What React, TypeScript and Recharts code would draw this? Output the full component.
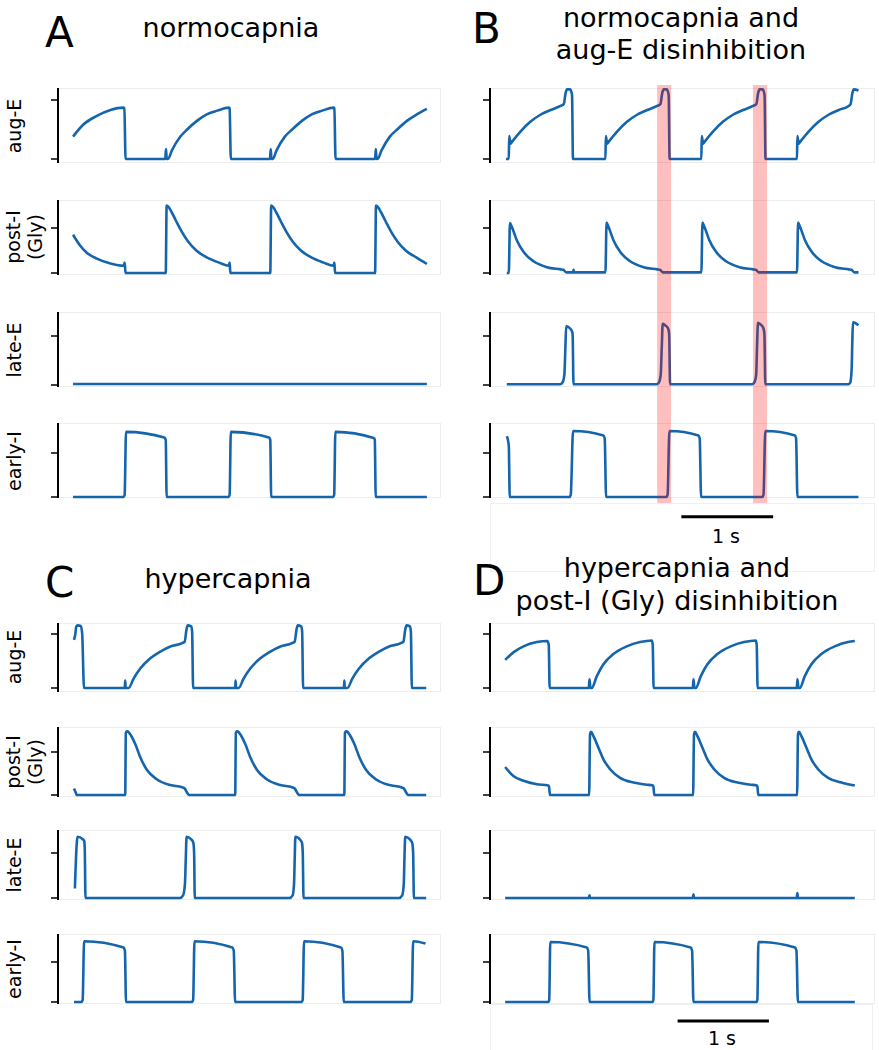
import React from "react";
import { LineChart, Line, XAxis, YAxis, ReferenceArea, ReferenceLine } from "recharts";

const FONT = "'DejaVu Sans', sans-serif";
const BLUE = "#1565ad";
const T_DOMAIN = [-0.165, 4.03]; // seconds

// [t (s), activity]; 0 = lower tick, 1 = upper tick
const A_AUG_E = [
  [0, 0.38], [0.11, 0.58], [0.26, 0.73], [0.41, 0.83], [0.55, 0.87], [0.562, 0.86], [0.575, 0],
  [1.01, 0], [1.018, 0.17], [1.026, 0], [1.04, 0], [1.084, 0.15], [1.176, 0.38], [1.25, 0.5], [1.36, 0.65], [1.47, 0.76], [1.58, 0.82], [1.705, 0.87], [1.715, 0.86], [1.728, 0],
  [2.157, 0], [2.165, 0.17], [2.173, 0], [2.187, 0], [2.23, 0.15], [2.32, 0.38], [2.4, 0.5], [2.51, 0.65], [2.62, 0.76], [2.73, 0.82], [2.852, 0.87], [2.862, 0.86], [2.875, 0],
  [3.308, 0], [3.316, 0.17], [3.324, 0], [3.335, 0], [3.38, 0.15], [3.47, 0.38], [3.55, 0.5], [3.66, 0.65], [3.77, 0.76], [3.875, 0.85],
];
const A_POST_I = [
  [0, 0.85], [0.077, 0.61], [0.15, 0.45], [0.26, 0.32], [0.41, 0.21], [0.555, 0.16], [0.565, 0.23], [0.575, 0],
  [1.015, 0], [1.025, 1.5], [1.045, 1.47], [1.08, 1.35], [1.13, 1.15], [1.19, 0.92], [1.26, 0.7], [1.35, 0.5], [1.47, 0.34], [1.6, 0.23], [1.705, 0.16], [1.715, 0.23], [1.723, 0],
  [2.16, 0], [2.17, 1.5], [2.19, 1.47], [2.225, 1.35], [2.275, 1.15], [2.335, 0.92], [2.405, 0.7], [2.495, 0.5], [2.615, 0.34], [2.745, 0.23], [2.852, 0.16], [2.862, 0.23], [2.87, 0],
  [3.308, 0], [3.318, 1.5], [3.338, 1.47], [3.373, 1.35], [3.423, 1.15], [3.483, 0.92], [3.553, 0.7], [3.643, 0.5], [3.763, 0.34], [3.875, 0.2],
];
const A_LATE_E = [[0, 0.02], [3.875, 0.02]];
const A_EARLY_I = [
  [0, 0], [0.555, 0], [0.565, 0.05], [0.58, 1.48], [1.0, 1.35], [1.015, 1.3], [1.025, 0],
  [1.705, 0], [1.715, 0.05], [1.728, 1.48], [2.147, 1.35], [2.16, 1.3], [2.17, 0],
  [2.85, 0], [2.86, 0.05], [2.873, 1.48], [3.293, 1.34], [3.305, 1.3], [3.315, 0], [3.875, 0],
];

const B_AUG_E = [
  [0.01, 0], [0.04, 0], [0.044, 0.39], [0.059, 0.26], [0.074, 0.29], [0.164, 0.46], [0.274, 0.63], [0.384, 0.75], [0.494, 0.83], [0.604, 0.9], [0.639, 0.93], [0.659, 1.12], [0.674, 1.18], [0.709, 1.18], [0.729, 1.08], [0.739, 0],
  [1.093, 0], [1.097, 0.39], [1.112, 0.26], [1.127, 0.29], [1.217, 0.46], [1.327, 0.63], [1.437, 0.75], [1.547, 0.83], [1.657, 0.9], [1.692, 0.93], [1.712, 1.12], [1.727, 1.18], [1.762, 1.18], [1.782, 1.08], [1.792, 0],
  [2.138, 0], [2.142, 0.39], [2.157, 0.26], [2.172, 0.29], [2.262, 0.46], [2.372, 0.63], [2.482, 0.75], [2.592, 0.83], [2.702, 0.9], [2.737, 0.93], [2.757, 1.12], [2.772, 1.18], [2.807, 1.18], [2.827, 1.08], [2.837, 0],
  [3.18, 0], [3.184, 0.39], [3.199, 0.26], [3.214, 0.29], [3.304, 0.46], [3.414, 0.63], [3.524, 0.75], [3.634, 0.83], [3.744, 0.9], [3.764, 0.93], [3.784, 1.12], [3.799, 1.18], [3.85, 1.16],
];
const B_POST_I = [
  [0.018, 0], [0.04, 0], [0.052, 1.11], [0.074, 1.02], [0.127, 0.73], [0.2, 0.47], [0.309, 0.26], [0.454, 0.13], [0.604, 0.08], [0.634, 0.07], [0.664, 0.015], [0.74, 0.015], [0.745, 0.07], [0.75, 0.015],
  [1.093, 0.015], [1.105, 1.12], [1.127, 1.02], [1.18, 0.73], [1.253, 0.47], [1.362, 0.26], [1.507, 0.13], [1.657, 0.08], [1.687, 0.07], [1.717, 0.015],
  [2.138, 0.015], [2.15, 1.12], [2.172, 1.02], [2.225, 0.73], [2.298, 0.47], [2.407, 0.26], [2.552, 0.13], [2.702, 0.08], [2.732, 0.07], [2.762, 0.015],
  [3.18, 0.015], [3.192, 1.12], [3.214, 1.02], [3.267, 0.73], [3.34, 0.47], [3.449, 0.26], [3.594, 0.13], [3.744, 0.08], [3.774, 0.07], [3.804, 0.015], [3.85, 0.015],
];
const B_LATE_E = [
  [0.018, 0.014], [0.6, 0.014], [0.625, 0.05], [0.645, 0.2], [0.657, 0.8], [0.665, 1.2], [0.69, 1.18], [0.722, 1.12], [0.735, 1.05], [0.745, 0.014],
  [1.65, 0.014], [1.675, 0.05], [1.695, 0.2], [1.707, 0.8], [1.717, 1.25], [1.742, 1.22], [1.774, 1.16], [1.787, 1.05], [1.797, 0.014],
  [2.69, 0.014], [2.715, 0.05], [2.735, 0.2], [2.745, 0.8], [2.755, 1.27], [2.78, 1.24], [2.812, 1.17], [2.825, 1.05], [2.835, 0.014],
  [3.74, 0.014], [3.76, 0.05], [3.775, 0.3], [3.783, 0.9], [3.79, 1.28], [3.85, 1.22],
];
const B_EARLY_I = [
  [0.018, 1.38], [0.03, 1.3], [0.04, 1.15], [0.05, 0],
  [0.7, 0], [0.715, 0.05], [0.74, 1.5], [1.071, 1.4], [1.085, 1.33], [1.1, 0],
  [1.755, 0], [1.77, 0.05], [1.79, 1.5], [2.106, 1.4], [2.12, 1.33], [2.135, 0],
  [2.8, 0], [2.815, 0.05], [2.835, 1.5], [3.159, 1.4], [3.17, 1.33], [3.185, 0], [3.85, 0],
];

const C_AUG_E = [
  [0.01, 0.89], [0.025, 1.0], [0.035, 1.14], [0.05, 1.16], [0.085, 1.15], [0.1, 1.0], [0.12, 0],
  [0.566, 0], [0.571, 0.14], [0.576, 0], [0.608, 0], [0.663, 0.175], [0.736, 0.36], [0.846, 0.55], [0.956, 0.675], [1.066, 0.77], [1.194, 0.83], [1.223, 0.86], [1.242, 1.08], [1.256, 1.16], [1.293, 1.14], [1.304, 1.05], [1.315, 0],
  [1.776, 0], [1.78, 0.14], [1.785, 0], [1.813, 0], [1.868, 0.175], [1.941, 0.36], [2.051, 0.55], [2.161, 0.675], [2.271, 0.77], [2.399, 0.83], [2.428, 0.86], [2.447, 1.08], [2.461, 1.16], [2.498, 1.14], [2.509, 1.05], [2.52, 0],
  [2.967, 0], [2.971, 0.14], [2.976, 0], [3.004, 0], [3.059, 0.175], [3.132, 0.36], [3.242, 0.55], [3.352, 0.675], [3.462, 0.77], [3.59, 0.83], [3.619, 0.86], [3.638, 1.08], [3.652, 1.16], [3.689, 1.14], [3.7, 1.05], [3.711, 0], [3.868, 0],
];
const C_POST_I = [
  [0.01, 0.15], [0.03, 0.05], [0.04, 0],
  [0.571, 0], [0.578, 1.45], [0.59, 1.48], [0.61, 1.46], [0.63, 1.4], [0.68, 1.19], [0.736, 0.88], [0.81, 0.58], [0.92, 0.36], [1.066, 0.23], [1.194, 0.18], [1.223, 0.15], [1.25, 0.05], [1.27, 0],
  [1.776, 0], [1.783, 1.45], [1.795, 1.48], [1.815, 1.46], [1.835, 1.4], [1.885, 1.19], [1.941, 0.88], [2.015, 0.58], [2.125, 0.36], [2.271, 0.23], [2.399, 0.18], [2.428, 0.15], [2.455, 0.05], [2.475, 0],
  [2.971, 0], [2.978, 1.45], [2.99, 1.48], [3.01, 1.46], [3.03, 1.4], [3.08, 1.19], [3.136, 0.88], [3.21, 0.58], [3.32, 0.36], [3.466, 0.23], [3.594, 0.18], [3.623, 0.15], [3.65, 0.05], [3.67, 0], [3.868, 0],
];
const C_LATE_E = [
  [0.02, 0.21], [0.04, 1.2], [0.048, 1.36], [0.11, 1.3], [0.122, 1.27], [0.128, 1.1], [0.136, 0],
  [1.17, 0], [1.205, 0.06], [1.225, 0.3], [1.235, 0.9], [1.243, 1.36], [1.3, 1.29], [1.318, 1.22], [1.326, 1.0], [1.333, 0],
  [2.37, 0], [2.405, 0.06], [2.42, 0.3], [2.428, 0.9], [2.435, 1.36], [2.49, 1.29], [2.508, 1.22], [2.516, 1.0], [2.524, 0],
  [3.57, 0], [3.605, 0.06], [3.622, 0.3], [3.63, 0.9], [3.638, 1.36], [3.695, 1.29], [3.715, 1.22], [3.725, 1.0], [3.733, 0], [3.868, 0],
];
const C_EARLY_I = [
  [0.01, 0], [0.09, 0], [0.105, 0.05], [0.121, 1.52], [0.553, 1.36], [0.568, 1.28], [0.58, 0],
  [1.3, 0], [1.315, 0.05], [1.33, 1.52], [1.744, 1.36], [1.76, 1.28], [1.775, 0],
  [2.5, 0], [2.515, 0.05], [2.53, 1.52], [2.934, 1.36], [2.95, 1.28], [2.965, 0],
  [3.695, 0], [3.71, 0.05], [3.725, 1.52], [3.861, 1.46],
];

const D_AUG_E = [
  [0, 0.52], [0.09, 0.66], [0.2, 0.77], [0.345, 0.85], [0.46, 0.87], [0.475, 0.8], [0.485, 0],
  [0.912, 0], [0.919, 0.16], [0.93, 0], [0.944, 0], [0.999, 0.22], [1.071, 0.44], [1.18, 0.63], [1.325, 0.77], [1.47, 0.85], [1.598, 0.88], [1.608, 0.8], [1.618, 0],
  [2.045, 0], [2.052, 0.16], [2.063, 0], [2.077, 0], [2.132, 0.22], [2.204, 0.44], [2.313, 0.63], [2.458, 0.77], [2.603, 0.85], [2.731, 0.88], [2.741, 0.8], [2.751, 0],
  [3.178, 0], [3.185, 0.16], [3.196, 0], [3.21, 0], [3.265, 0.22], [3.337, 0.44], [3.446, 0.63], [3.591, 0.77], [3.736, 0.85], [3.81, 0.87],
];
const D_POST_I = [
  [0, 0.65], [0.09, 0.44], [0.2, 0.33], [0.345, 0.25], [0.47, 0.22], [0.478, 0.2], [0.488, 0],
  [0.915, 0], [0.925, 1.42], [0.935, 1.47], [0.962, 1.37], [1.017, 1.1], [1.071, 0.83], [1.144, 0.6], [1.253, 0.4], [1.398, 0.29], [1.543, 0.24], [1.609, 0.22], [1.615, 0.2], [1.625, 0],
  [2.048, 0], [2.058, 1.42], [2.068, 1.47], [2.095, 1.37], [2.15, 1.1], [2.204, 0.83], [2.277, 0.6], [2.386, 0.4], [2.531, 0.29], [2.676, 0.24], [2.742, 0.22], [2.748, 0.2], [2.758, 0],
  [3.181, 0], [3.191, 1.42], [3.201, 1.47], [3.228, 1.37], [3.283, 1.1], [3.337, 0.83], [3.41, 0.6], [3.519, 0.4], [3.664, 0.29], [3.81, 0.22],
];
const D_LATE_E = [
  [0, 0], [0.912, 0], [0.919, 0.06], [0.926, 0], [2.045, 0], [2.052, 0.08], [2.059, 0], [3.177, 0], [3.184, 0.11], [3.191, 0], [3.81, 0],
];
const D_EARLY_I = [
  [0, 0], [0.47, 0], [0.48, 0.05], [0.492, 1.5], [0.89, 1.36], [0.905, 1.28], [0.92, 0],
  [1.605, 0], [1.615, 0.05], [1.627, 1.5], [2.022, 1.36], [2.037, 1.28], [2.052, 0],
  [2.738, 0], [2.748, 0.05], [2.76, 1.5], [3.159, 1.36], [3.174, 1.28], [3.19, 0], [3.81, 0],
];

const B_HIGHLIGHTS = [[1.656, 1.808], [2.7, 2.854]];
const SCALE_B = [1.92, 2.92];
const SCALE_D = [1.89, 2.89];

// layout (px)
const YW = 20;
const LEFT_COL = { axis: 58, right: 441 };
const RIGHT_COL = { axis: 490, right: 875 };
const TOP_ROWS = [
  { top: 88, bottom: 163, tick1: 100, tick0: 159 },
  { top: 200, bottom: 275, tick1: 228, tick0: 273 },
  { top: 312, bottom: 387, tick1: 336, tick0: 385 },
  { top: 423, bottom: 498, tick1: 453, tick0: 497 },
];
const BOTTOM_ROWS = [
  { top: 623, bottom: 692, tick1: 634, tick0: 688 },
  { top: 727, bottom: 797, tick1: 752, tick0: 795 },
  { top: 830, bottom: 900, tick1: 853, tick0: 898 },
  { top: 934, bottom: 1004, tick1: 962, tick0: 1002 },
];
const NO_MARGIN = { top: 0, right: 0, bottom: 0, left: 0 };

const Trace = ({ data, col, row }) => {
  const ppu = row.tick0 - row.tick1;
  const lo = -(row.bottom - row.tick0) / ppu;
  const hi = (row.tick0 - row.top) / ppu;
  const pts = data.map(([t, v]) => ({ t, v }));
  const w = col.right - col.axis;
  const h = row.bottom - row.top;
  return (
    <>
      <div
        style={{
          position: "absolute", left: col.axis, top: row.top, width: w, height: h,
          border: "1.5px solid #ededed", boxSizing: "border-box",
        }}
      />
      <div style={{ position: "absolute", left: col.axis - YW, top: row.top }}>
        <LineChart width={w + YW} height={h} data={pts} margin={NO_MARGIN}>
          <XAxis dataKey="t" type="number" domain={T_DOMAIN} hide />
          <YAxis
            type="number"
            domain={[lo, hi]}
            ticks={[0, 1]}
            width={YW}
            axisLine={{ stroke: "#000", strokeWidth: 2 }}
            tickLine={{ stroke: "#000", strokeWidth: 1.5 }}
            tickSize={7}
            tickFormatter={() => ""}
          />
          <Line type="monotone" dataKey="v" stroke={BLUE} strokeWidth={2.6} dot={false} isAnimationActive={false} />
        </LineChart>
      </div>
    </>
  );
};

// invisible helper series so the overlay charts get a y scale
const Anchor = () => (
  <Line dataKey="v" stroke="none" strokeWidth={0} dot={false} activeDot={false} isAnimationActive={false} />
);

const ScaleBar = ({ left, top, width, height, range, y }) => (
  <>
    <div
      style={{
        position: "absolute", left, top, width, height,
        border: "1.5px solid #f0f0f0", boxSizing: "border-box",
      }}
    />
    <div style={{ position: "absolute", left, top }}>
      <LineChart width={width} height={height} data={[{ t: range[0], v: 0 }, { t: range[1], v: 1 }]} margin={NO_MARGIN}>
        <XAxis dataKey="t" type="number" domain={T_DOMAIN} hide />
        <YAxis type="number" domain={[0, 1]} hide />
        {Anchor()}
        <ReferenceLine
          segment={[{ x: range[0], y }, { x: range[1], y }]}
          stroke="#000"
          strokeWidth={3}
          ifOverflow="visible"
        />
      </LineChart>
    </div>
  </>
);

const label = (x, y, lines) =>
  lines.map((s, i) => (
    <text key={s} x={x + i * 22} y={y} transform={`rotate(-90, ${x + i * 22}, ${y})`} textAnchor="middle" fontSize={19}>
      {s}
    </text>
  ));

export default function App() {
  return (
    <div style={{ position: "absolute", left: 0, top: 0, width: 879, height: 1050, background: "#fff", overflow: "hidden", fontFamily: FONT }}>
      <style>{`.recharts-surface { overflow: visible; }`}</style>

      {[A_AUG_E, A_POST_I, A_LATE_E, A_EARLY_I].map((d, i) => (
        <Trace key={"a" + i} data={d} col={LEFT_COL} row={TOP_ROWS[i]} />
      ))}
      {[B_AUG_E, B_POST_I, B_LATE_E, B_EARLY_I].map((d, i) => (
        <Trace key={"b" + i} data={d} col={RIGHT_COL} row={TOP_ROWS[i]} />
      ))}
      {[C_AUG_E, C_POST_I, C_LATE_E, C_EARLY_I].map((d, i) => (
        <Trace key={"c" + i} data={d} col={LEFT_COL} row={BOTTOM_ROWS[i]} />
      ))}
      {[D_AUG_E, D_POST_I, D_LATE_E, D_EARLY_I].map((d, i) => (
        <Trace key={"d" + i} data={d} col={RIGHT_COL} row={BOTTOM_ROWS[i]} />
      ))}

      {/* highlighted late-E bursts in B, drawn over the traces */}
      <div style={{ position: "absolute", left: RIGHT_COL.axis, top: 85, pointerEvents: "none" }}>
        <LineChart
          width={RIGHT_COL.right - RIGHT_COL.axis}
          height={418}
          data={B_HIGHLIGHTS.map(([a, b]) => [{ t: a, v: 0 }, { t: b, v: 1 }]).flat()}
          margin={NO_MARGIN}
        >
          <XAxis dataKey="t" type="number" domain={T_DOMAIN} hide />
          <YAxis type="number" domain={[0, 1]} hide />
          {Anchor()}
          {B_HIGHLIGHTS.map(([a, b]) => (
            <ReferenceArea
              key={a}
              x1={a}
              x2={b}
              y1={0}
              y2={1}
              fill="#ff0000"
              fillOpacity={0.25}
              stroke="none"
              ifOverflow="visible"
            />
          ))}
        </LineChart>
      </div>

      <ScaleBar left={490} top={503} width={385} height={69} range={SCALE_B} y={0.8} />
      <ScaleBar left={490} top={1004} width={383} height={50} range={SCALE_D} y={0.66} />

      <svg width={879} height={1050} style={{ position: "absolute", left: 0, top: 0, pointerEvents: "none" }} fontFamily={FONT} fill="#000">
        <text x={45} y={47} fontSize={42}>A</text>
        <text x={231} y={37} fontSize={27} textAnchor="middle">normocapnia</text>
        <text x={472} y={43} fontSize={42}>B</text>
        <text x={681} y={27} fontSize={27} textAnchor="middle">normocapnia and</text>
        <text x={681} y={59} fontSize={27} textAnchor="middle">aug-E disinhibition</text>
        <text x={45} y={597} fontSize={42}>C</text>
        <text x={228} y={588} fontSize={27} textAnchor="middle">hypercapnia</text>
        <text x={473} y={595} fontSize={42}>D</text>
        <text x={677} y={577} fontSize={27} textAnchor="middle">hypercapnia and</text>
        <text x={677} y={610} fontSize={27} textAnchor="middle">post-I (Gly) disinhibition</text>

        {label(21, 126, ["aug-E"])}
        {label(20, 237, ["post-I", "(Gly)"])}
        {label(21, 350, ["late-E"])}
        {label(21, 461, ["early-I"])}
        {label(21, 657, ["aug-E"])}
        {label(20, 762, ["post-I", "(Gly)"])}
        {label(21, 865, ["late-E"])}
        {label(21, 969, ["early-I"])}

        <text x={726} y={543} fontSize={19} textAnchor="middle">1 s</text>
        <text x={722} y={1045} fontSize={19} textAnchor="middle">1 s</text>
      </svg>
    </div>
  );
}
